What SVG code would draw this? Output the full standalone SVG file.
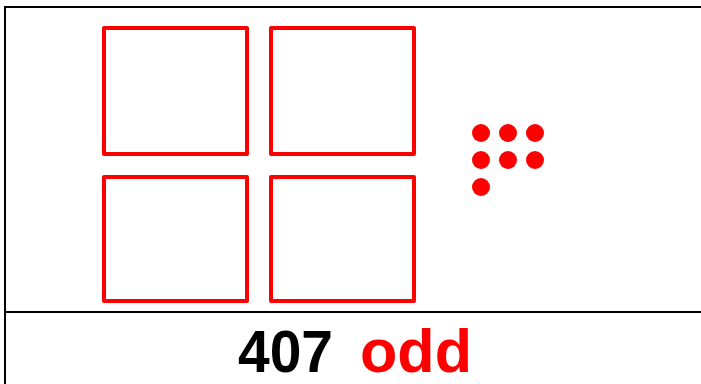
<svg xmlns="http://www.w3.org/2000/svg" width="701" height="384" viewBox="0 0 701 384">
<style>
.sq{fill:none;stroke:#ff0000;stroke-width:4;stroke-linejoin:round}
.dot{fill:#ff0000}
.frame{fill:none;stroke:#000;stroke-width:2}
.t{font-family:"Liberation Sans",Arial,sans-serif;font-weight:bold}
</style>
<rect width="701" height="384" fill="#fff"/>
<g id="frame">
<path class="frame" d="M5,384 V7 H701"/>
<line class="frame" x1="5" y1="312" x2="701" y2="312"/>
</g>
<g id="squares">
<rect class="sq" x="104" y="28" width="143" height="126"/>
<rect class="sq" x="271" y="28" width="143" height="126"/>
<rect class="sq" x="104" y="177" width="143" height="124"/>
<rect class="sq" x="271" y="177" width="143" height="124"/>
</g>
<g id="dots">
<circle class="dot" cx="481" cy="133" r="9"/>
<circle class="dot" cx="508" cy="133" r="9"/>
<circle class="dot" cx="535" cy="133" r="9"/>
<circle class="dot" cx="481" cy="160" r="9"/>
<circle class="dot" cx="508" cy="160" r="9"/>
<circle class="dot" cx="535" cy="160" r="9"/>
<circle class="dot" cx="481" cy="187" r="9"/>
</g>
<g id="label">
<text class="t" x="238" y="372" font-size="60" fill="#000" textLength="95" lengthAdjust="spacingAndGlyphs">407</text>
<text class="t" x="360" y="372" font-size="62" fill="#ff0000" textLength="112" lengthAdjust="spacingAndGlyphs">odd</text>
</g>
</svg>
